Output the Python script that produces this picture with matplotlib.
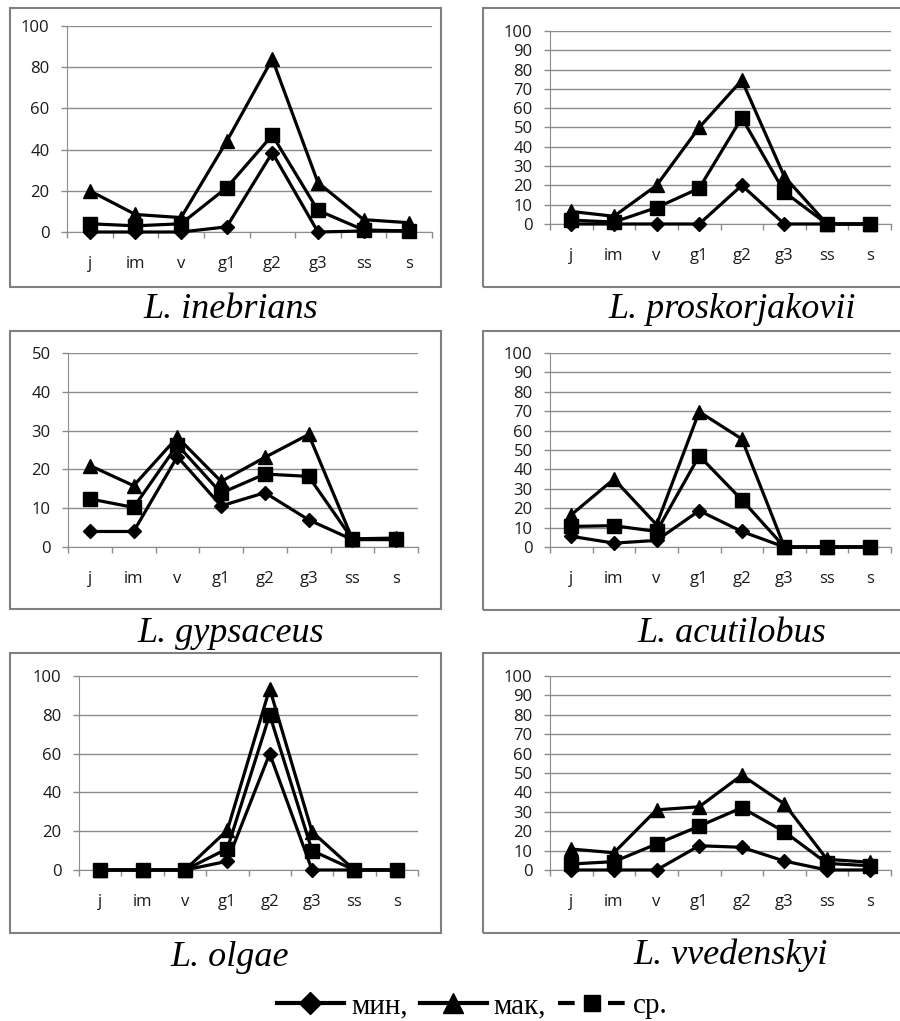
import numpy as np
import matplotlib.pyplot as plt
from matplotlib.patches import Rectangle
from matplotlib.lines import Line2D

W, H = 900, 1021

cats = ['j', 'im', 'v', 'g1', 'g2', 'g3', 'ss', 's']

# L. inebrians
ineb_min = [0, 0, 0, 2.5, 38.5, 0, 0.5, 0.5]
ineb_max = [20, 8.5, 7, 44, 84, 24, 6, 4.5]
ineb_mean = [4, 3, 4, 21.5, 47, 10.5, 1, 0.5]

# L. proskorjakovii
prosk_min = [0, 0, 0, 0, 20, 0, 0, 0]
prosk_max = [6.5, 4, 20, 50, 74.5, 24.5, 0, 0]
prosk_mean = [2, 1, 8.5, 18.5, 55, 16.5, 0, 0]

# L. gypsaceus
gyps_min = [4, 4, 23.3, 10.6, 14, 7, 1.9, 1.9]
gyps_max = [21, 15.8, 28.3, 16.9, 23.1, 29, 2.1, 2.3]
gyps_mean = [12.4, 10.2, 26.3, 13.9, 18.8, 18.2, 2, 2]

# L. acutilobus
acut_min = [5.5, 2, 3.4, 18.7, 8, 0, 0, 0]
acut_max = [16.6, 35, 11.5, 69.7, 55.7, 0, 0, 0]
acut_mean = [10.6, 11, 8, 47, 24.3, 0, 0, 0]

# L. olgae
olg_min = [0, 0, 0, 4.5, 60, 0, 0, 0]
olg_max = [0, 0, 0, 20.5, 93.5, 19.7, 0, 0]
olg_mean = [0, 0, 0, 11, 80, 10, 0, 0]

# L. vvedenskyi
vved_min = [0, 0, 0, 12.5, 11.7, 4.6, 0, 0]
vved_max = [10.8, 8.9, 31, 32.6, 48.9, 34, 5.5, 4]
vved_mean = [3.1, 4.3, 13.4, 22.6, 32.1, 19.7, 3.4, 2.2]

names = ['L. inebrians', 'L. proskorjakovii', 'L. gypsaceus',
         'L. acutilobus', 'L. olgae', 'L. vvedenskyi']
ymaxes = [100, 100, 50, 100, 100, 100]
ysteps = [20, 10, 10, 10, 20, 10]
series = [(ineb_min, ineb_max, ineb_mean), (prosk_min, prosk_max, prosk_mean),
          (gyps_min, gyps_max, gyps_mean), (acut_min, acut_max, acut_mean),
          (olg_min, olg_max, olg_mean), (vved_min, vved_max, vved_mean)]

# pixel layout: plot area (left, right, top, bottom), frame box, caption centre
areas = [(67, 432, 26, 232), (550, 891, 31, 224),
         (68, 418, 353, 547), (550, 891, 353, 547),
         (79, 418, 676, 870), (550, 891, 676, 870)]
boxes = [(10, 441, 8, 287), (483, 905, 8, 287),
         (10, 441, 331, 609), (483, 905, 331, 610),
         (10, 441, 653, 933), (483, 905, 653, 933)]
caps = [(231, 309), (732, 310), (231, 633), (732, 633), (230, 957), (731, 955)]

grid_c = '#8c8c8c'
box_c = '#808080'
tick_font = 'Open Sans'
serif = 'Liberation Serif'

fig = plt.figure(figsize=(W / 100, H / 100), dpi=100)


def fx(x):
    return x / W


def fy(y):
    return 1 - y / H


for i in range(6):
    bl, br, bt, bb = boxes[i]
    fig.patches.append(Rectangle((fx(bl), fy(bb)), fx(br - bl), (bb - bt) / H,
                                 transform=fig.transFigure, fill=False,
                                 edgecolor=box_c, linewidth=1.5))

    l, r, t, b = areas[i]
    ax = fig.add_axes([fx(l), fy(b), fx(r - l), (b - t) / H])
    x = np.arange(len(cats))
    mn, mx, me = series[i]
    ax.plot(x, mn, color='black', lw=2.3, marker='D', ms=7, clip_on=False, zorder=3)
    ax.plot(x, mx, color='black', lw=2.3, marker='^', ms=10, clip_on=False, zorder=3)
    ax.plot(x, me, color='black', lw=2.3, marker='s', ms=10, clip_on=False, zorder=4)

    ax.set_xlim(-0.5, len(cats) - 0.5)
    ax.set_ylim(0, ymaxes[i])
    ax.set_yticks(np.arange(0, ymaxes[i] + 1, ysteps[i]))
    ax.yaxis.grid(True, color=grid_c, lw=1)
    ax.set_axisbelow(True)
    ax.set_xticks(x)
    ax.set_xticklabels(cats)
    ax.set_xticks(np.arange(-0.5, len(cats)), minor=True)
    ax.tick_params(axis='x', which='major', length=0, pad=17)
    ax.tick_params(axis='x', which='minor', length=4.5, color=grid_c, width=1)
    ax.tick_params(axis='y', length=4.5, color=grid_c, width=1, pad=8)
    for lab in ax.get_xticklabels() + ax.get_yticklabels():
        lab.set_fontfamily(tick_font)
        lab.set_fontsize(12)
        lab.set_color('#1a1a1a')
    for s in ['top', 'right']:
        ax.spines[s].set_visible(False)
    ax.spines['left'].set_color(grid_c)
    ax.spines['bottom'].set_color(grid_c)
    ax.patch.set_alpha(0)

    cx, cy = caps[i]
    fig.text(fx(cx), fy(cy), names[i], ha='center', va='center',
             family=serif, style='italic', fontsize=26)

handles = [Line2D([], [], color='black', lw=3, marker='D', ms=11),
           Line2D([], [], color='black', lw=3, marker='^', ms=14),
           Line2D([], [], color='black', lw=3, marker='s', ms=12, dashes=(4, 8))]
fig.legend(handles, ['мин,', 'мак,', 'ср.'], loc='center',
           bbox_to_anchor=(fx(472), fy(1006)), ncol=3, frameon=False,
           prop={'family': serif, 'size': 21}, handlelength=2.3,
           handletextpad=0.25, columnspacing=0.4, numpoints=1,
           borderpad=0.1)

fig.savefig('out.png', dpi=100)
